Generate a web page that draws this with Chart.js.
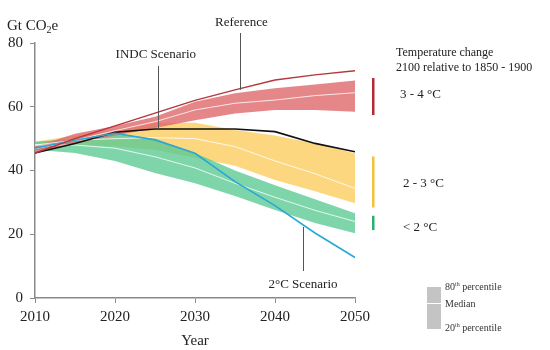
<!DOCTYPE html>
<html>
<head>
<meta charset="utf-8">
<script src="https://cdn.jsdelivr.net/npm/chart.js@4.4.1/dist/chart.umd.min.js"></script>
<style>
    html, body { margin: 0; padding: 0; background: #fff; }
    #wrap { width: 550px; height: 350px; position: relative; }
</style>
</head>
<body>
<div id="wrap"><canvas id="emissionsChart"></canvas></div>
<script>
// Emission pathways (Gt CO2e)

const years = [2010, 2015, 2020, 2025, 2030, 2035, 2040, 2045, 2050];

const reference = [45.5, 50, 54, 58, 62, 65.3, 68.4, 70, 71.3];
const indc = [45.5, 48.5, 52, 53, 53, 53, 52.2, 48.5, 45.9];
const twoDegree = [47, 49.5, 51.7, 49.6, 45.4, 36.5, 29, 20.4, 12.7];

// 3 - 4 °C band
const red80 = [47.5, 51.5, 54, 56.9, 61.6, 64.2, 65.8, 67, 68.2];
const red50 = [46.8, 49.5, 52.5, 55.3, 59, 61.1, 62.1, 63.5, 64.4];
const red20 = [45.5, 48.5, 51, 53.3, 55.8, 57.9, 59, 59, 58.4];

// 2 - 3 °C band
const yellow80 = [49, 51, 53, 55, 55, 52.7, 51, 48.5, 45.4];
const yellow50 = [48, 49.5, 50, 50.3, 50, 47.5, 43, 39, 34.4];
const yellow20 = [47, 48, 47.5, 46.4, 44, 41.5, 37, 33.5, 29.7];

// < 2 °C band
const green80 = [49, 50, 51.5, 50, 45.5, 40, 35.4, 31, 26.6];
const green50 = [48, 48, 47, 44.3, 40.8, 36, 31.6, 27.5, 24];
const green20 = [46.5, 45.5, 43, 39.2, 36, 32, 27.6, 23.5, 20.3];

const yTicks = [0, 20, 40, 60, 80];
const xTicks = [2010, 2020, 2030, 2040, 2050];

const serif = '"Liberation Serif", "DejaVu Serif", serif';

const pts = (vals) => years.map((y, i) => ({ x: y, y: vals[i] }));

const datasets = [];

// band = top (filled down to the next dataset) + bottom
const addBand = (top, bottom, color, order) => {
    const idx = datasets.length;
    datasets.push({
        data: pts(top),
        borderWidth: 0,
        pointRadius: 0,
        backgroundColor: color,
        fill: idx + 1,
        order: order,
    });
    datasets.push({
        data: pts(bottom),
        borderWidth: 0,
        pointRadius: 0,
        fill: false,
        order: order,
    });
};

const addLine = (vals, color, width, order) => {
    datasets.push({
        data: pts(vals),
        borderColor: color,
        borderWidth: width,
        pointRadius: 0,
        fill: false,
        order: order,
    });
};

addBand(yellow80, yellow20, 'rgba(253, 208, 106, 0.85)', 10);
addBand(green80, green20, 'rgba(92, 202, 148, 0.8)', 9);
addBand(red80, red20, 'rgba(223, 104, 108, 0.8)', 8);

addLine(yellow50, 'rgba(255,255,255,0.8)', 1, 5);
addLine(green50, 'rgba(255,255,255,0.8)', 1, 5);
addLine(red50, 'rgba(255,255,255,0.8)', 1, 5);

addLine(indc, '#111111', 1.6, 3);
addLine(twoDegree, '#2aa7d6', 1.6, 2);
addLine(reference, '#b5363c', 1.4, 1);

// texts, leader lines and the two legends on the right
const annotations = {
    id: 'annotations',
    afterDraw(chart) {
        const { ctx } = chart;
        const xs = chart.scales.x;
        const ys = chart.scales.y;
        const last = years.length - 1;

        ctx.save();
        ctx.fillStyle = '#222';
        ctx.textBaseline = 'middle';

        // y axis unit
        ctx.font = '15px ' + serif;
        ctx.textAlign = 'left';
        ctx.fillText('Gt CO', 7, 26);
        let w = ctx.measureText('Gt CO').width;
        ctx.font = '10px ' + serif;
        ctx.fillText('2', 7 + w, 30);
        let w2 = ctx.measureText('2').width;
        ctx.font = '15px ' + serif;
        ctx.fillText('e', 7 + w + w2, 26);

        // leader lines
        ctx.strokeStyle = '#555';
        ctx.lineWidth = 1;
        const leader = (xv, yTop, yBot) => {
            const px = Math.round(xs.getPixelForValue(xv)) + 0.5;
            ctx.beginPath();
            ctx.moveTo(px, yTop);
            ctx.lineTo(px, yBot);
            ctx.stroke();
        };
        leader(2035.6, 33, ys.getPixelForValue(65.3));
        leader(2025.4, 66, ys.getPixelForValue(53));
        leader(2043.5, ys.getPixelForValue(22.3), 271);

        ctx.font = '13px ' + serif;
        ctx.textAlign = 'center';
        ctx.fillText('Reference', xs.getPixelForValue(2035.8), 23);
        ctx.fillText('INDC Scenario', xs.getPixelForValue(2025.1), 55);
        ctx.fillText('2°C Scenario', xs.getPixelForValue(2043.5), 285);

        // temperature legend
        ctx.textAlign = 'left';
        ctx.font = '12px ' + serif;
        ctx.fillText('Temperature change', 396, 53);
        ctx.fillText('2100 relative to 1850 - 1900', 396, 68);

        const bar = (top, bottom, color) => {
            ctx.fillStyle = color;
            const y1 = ys.getPixelForValue(top);
            const y2 = ys.getPixelForValue(bottom);
            ctx.fillRect(372, y1, 2.5, y2 - y1);
        };
        bar(red80[last] + 0.8, red20[last] - 1, '#b32a30');
        bar(yellow80[last] - 1, yellow20[last] - 1.3, '#f2c23a');
        bar(green80[last] - 0.8, green20[last] + 1, '#2fae6e');

        ctx.fillStyle = '#222';
        ctx.font = '13px ' + serif;
        ctx.fillText('3 - 4 °C', 400, 95);
        ctx.fillText('2 - 3 °C', 403, 184);
        ctx.fillText('< 2 °C', 403, 228);

        // percentile legend
        ctx.fillStyle = '#c4c4c4';
        ctx.fillRect(427, 287, 14, 42);
        ctx.fillStyle = '#ffffff';
        ctx.fillRect(427, 303, 14, 1);

        ctx.fillStyle = '#333';
        const sup = (base, s, x, y) => {
            ctx.font = '10px ' + serif;
            ctx.fillText(base, x, y);
            let bw = ctx.measureText(base).width;
            ctx.font = '6px ' + serif;
            ctx.fillText(s, x + bw, y - 3);
            let sw = ctx.measureText(s).width;
            ctx.font = '10px ' + serif;
            ctx.fillText(' percentile', x + bw + sw, y);
        };
        sup('80', 'th', 445, 287);
        ctx.font = '10px ' + serif;
        ctx.fillText('Median', 445, 304);
        sup('20', 'th', 445, 328);

        ctx.restore();
    },
};

const chartOptions = {
    responsive: true,
    maintainAspectRatio: false,
    animation: false,
    layout: {
        padding: {
            left: 0,
            right: 195,
            top: 43,
            bottom: 0,
        },
    },
    plugins: {
        legend: { display: false },
        tooltip: { enabled: false },
    },
    scales: {
        x: {
            type: 'linear',
            min: 2010,
            max: 2050,
            afterBuildTicks: (scale) => {
                scale.ticks = xTicks.map(v => ({ value: v }));
            },
            afterFit: (scale) => {
                scale.height = 52;
            },
            grid: {
                drawOnChartArea: false,
                drawTicks: true,
                tickLength: 5,
                color: '#8a8a8a',
            },
            border: { color: '#8a8a8a', width: 1.5 },
            ticks: {
                color: '#222',
                padding: 5,
                maxRotation: 0,
                font: { family: serif, size: 15 },
                callback: (v) => String(v),
            },
            title: {
                display: true,
                text: 'Year',
                color: '#222',
                padding: { top: 0, bottom: 0 },
                font: { family: serif, size: 15 },
            },
        },
        y: {
            min: 0,
            max: 80,
            afterBuildTicks: (scale) => {
                scale.ticks = yTicks.map(v => ({ value: v }));
            },
            afterFit: (scale) => {
                scale.width = 35;
            },
            grid: {
                drawOnChartArea: false,
                drawTicks: true,
                tickLength: 5,
                color: '#8a8a8a',
            },
            border: { color: '#8a8a8a', width: 1.5 },
            ticks: {
                color: '#222',
                padding: 7,
                font: { family: serif, size: 15 },
            },
        },
    },
};

const ctxEl = document.getElementById('emissionsChart');

new Chart(ctxEl, {
    type: 'line',
    data: { datasets: datasets },
    options: chartOptions,
    plugins: [annotations],
});
</script>
</body>
</html>
